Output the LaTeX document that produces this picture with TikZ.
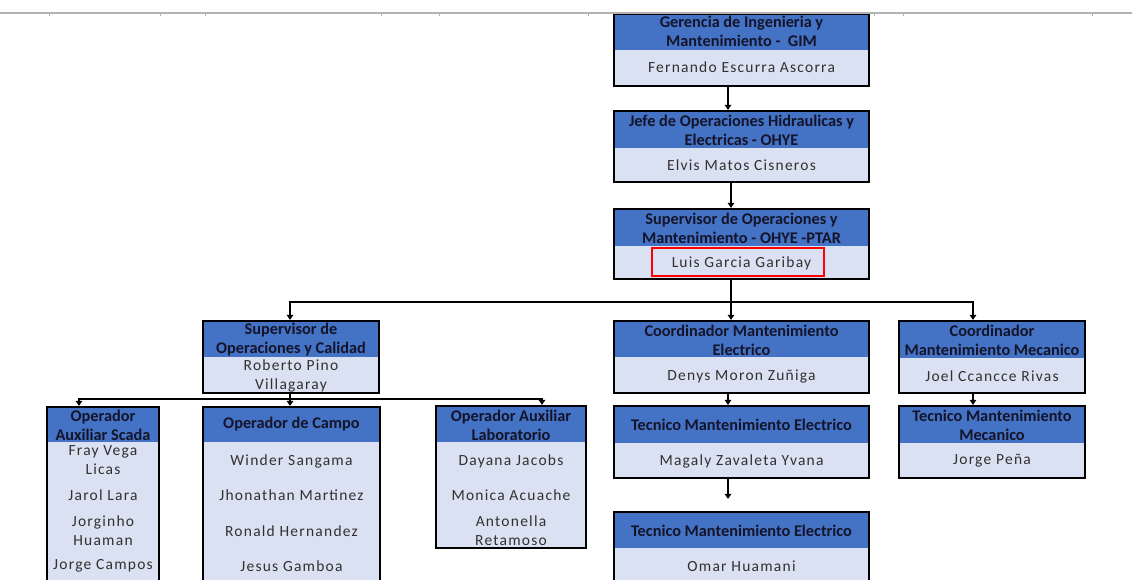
\documentclass[tikz,border=0pt]{standalone}
\usepackage{fontspec}
\setmainfont{Carlito}
\newfontfamily\nmfam[LetterSpace=8]{Carlito}
\usetikzlibrary{arrows.meta,fit,calc}
\definecolor{hdrblue}{HTML}{4472C4}
\definecolor{bandc}{HTML}{D9E1F2}
\definecolor{hdrtext}{HTML}{14142A}
\definecolor{nmtext}{HTML}{33302F}
\newcommand\hdrfont{\fontsize{16.3}{19}\selectfont\bfseries}
\newcommand\nmfont{\nmfam\fontsize{15.5}{19}\selectfont}
\tikzset{
  hdr/.style={font=\hdrfont, text=hdrtext, align=center, inner sep=0pt},
  nm/.style={font=\nmfont, text=nmtext, align=center, inner sep=0pt},
  frame/.style={draw=black, line width=2.2pt, inner sep=0pt},
  conn/.style={line width=1.8pt, draw=black},
  arr/.style={conn, -{Triangle[length=5pt,width=6.5pt]}},
}
\newcommand\obox[6]{%
  \fill[bandc] (#2,#3) rectangle (#4,#5);
  \fill[hdrblue] (#2,#3) rectangle (#4,#6);
  \node[frame, fit={(#2,#3)(#4,#5)}] (#1) {};
}
\begin{document}
\begin{tikzpicture}[x=1pt,y=-1pt]
\useasboundingbox (0,0) rectangle (1132,580);
\clip (0,0) rectangle (1132,580);
% boxes
\obox{gim}{614}{14}{869}{86}{50}
\obox{jefe}{614}{111}{869}{182}{148}
\obox{sup}{614}{209}{869}{279}{246}
\obox{supoc}{203}{321}{379}{393}{357}
\obox{coorde}{614}{321}{869}{393}{357}
\obox{coordm}{899}{321}{1085}{393}{358}
\obox{tece1}{614}{406}{869}{478}{443}
\obox{tece2}{614}{512}{869}{592}{548}
\obox{tecm}{899}{406}{1085}{478}{443}
\obox{scada}{47}{407}{159}{592}{442}
\obox{campo}{203}{407}{380}{592}{442}
\obox{lab}{436}{406}{586}{548}{442}
% top grid line
\draw[gray!60, line width=1.6pt] (0,13) -- (1132,13);
\foreach \tx in {49,160,205,381,439,588,874,903,1092}
  \draw[gray!60, line width=0.6pt] (\tx,13) -- (\tx,16);
% texts
\node[hdr] (gimh) at (741.5,31) {Gerencia de Ingenieria y\\Mantenimiento - \ GIM};
\node[nm] (gimn) at (741.5,67) {Fernando Escurra Ascorra};
\node[hdr] (jefeh) at (741.5,130) {Jefe de Operaciones Hidraulicas y\\Electricas - OHYE};
\node[nm] (jefen) at (741.5,165) {Elvis Matos Cisneros};
\node[hdr] (suph) at (741.5,228) {Supervisor de Operaciones y\\Mantenimiento - OHYE -PTAR};
\node[nm] (supn) at (741.5,263.5) {Luis Garcia Garibay};
\node[draw=red, line width=1.6pt, inner sep=0pt, fit={(652,248)(824,276)}] (hl) {};
\node[hdr] (supoch) at (291,340) {Supervisor de\\Operaciones y Calidad};
\node[nm] (supocn) at (291,376) {Roberto Pino\\Villagaray};
\node[hdr] (coordeh) at (741.5,340) {Coordinador Mantenimiento\\Electrico};
\node[nm] (coorden) at (741.5,376) {Denys Moron Zuñiga};
\node[hdr] (coordmh) at (992,340) {Coordinador\\Mantenimiento Mecanico};
\node[nm] (coordmn) at (992,376) {Joel Ccancce Rivas};
\node[hdr] (tece1h) at (741.5,424.5) {Tecnico Mantenimiento Electrico};
\node[nm] (tece1n) at (741.5,461) {Magaly Zavaleta Yvana};
\node[hdr] (tece2h) at (741.5,530.5) {Tecnico Mantenimiento Electrico};
\node[nm] (tece2n) at (741.5,566) {Omar Huamani};
\node[hdr] (tecmh) at (992,425) {Tecnico Mantenimiento\\Mecanico};
\node[nm] (tecmn) at (992,461) {Jorge Peña};
\node[hdr] (scadah) at (103,425) {Operador\\Auxiliar Scada};
\node[nm] (scada1) at (103,460) {Fray Vega\\Licas};
\node[nm] (scada2) at (103,495) {Jarol Lara};
\node[nm] (scada3) at (103,531) {Jorginho\\Huaman};
\node[nm] (scada4) at (103,566) {Jorge Campos};
\node[hdr] (campoh) at (291.5,424.5) {Operador de Campo};
\node[nm] (campo1) at (291.5,461) {Winder Sangama};
\node[nm] (campo2) at (291.5,495) {Jhonathan Martinez};
\node[nm] (campo3) at (291.5,531) {Ronald Hernandez};
\node[nm] (campo4) at (291.5,566) {Jesus Gamboa};
\node[hdr] (labh) at (511,425) {Operador Auxiliar\\Laboratorio};
\node[nm] (lab1) at (511,461) {Dayana Jacobs};
\node[nm] (lab2) at (511,495) {Monica Acuache};
\node[nm] (lab3) at (511,531) {Antonella\\Retamoso};
% connectors
\draw[arr] ([xshift=-13.5pt]gim.south) -- ([xshift=-13.5pt]jefe.north);
\draw[arr] ([xshift=-10.5pt]jefe.south) -- ([xshift=-10.5pt]sup.north);
\coordinate (bus) at (731,302);
\coordinate (busL) at (290,302);
\coordinate (busR) at (973,302);
\draw[conn] (sup.south -| bus) -- (bus);
\draw[conn] ([xshift=-0.9pt]busL) -- ([xshift=0.9pt]busR);
\draw[arr] (busL) -- (busL |- supoc.north);
\draw[arr] (bus) -- (bus |- coorde.north);
\draw[arr] (busR) -- (busR |- coordm.north);
\draw[arr] ([xshift=-13.5pt]coorde.south) -- ([xshift=-13.5pt]tece1.north);
\draw[arr] ([xshift=-13.5pt]tece1.south) -- ([xshift=-13.5pt,yshift=12pt]tece2.north);
\draw[arr] (coordm.south -| busR) -- (tecm.north -| busR);
\coordinate (lbus) at (290,399);
\coordinate (lbusL) at (79,399);
\coordinate (lbusR) at (542,399);
\draw[conn] (supoc.south -| lbus) -- (lbus);
\draw[conn] ([xshift=-0.9pt]lbusL) -- ([xshift=0.9pt]lbusR);
\draw[arr] (lbusL) -- (lbusL |- scada.north);
\draw[arr] (lbus) -- (lbus |- campo.north);
\draw[arr] (lbusR) -- (lbusR |- lab.north);
\end{tikzpicture}
\end{document}
